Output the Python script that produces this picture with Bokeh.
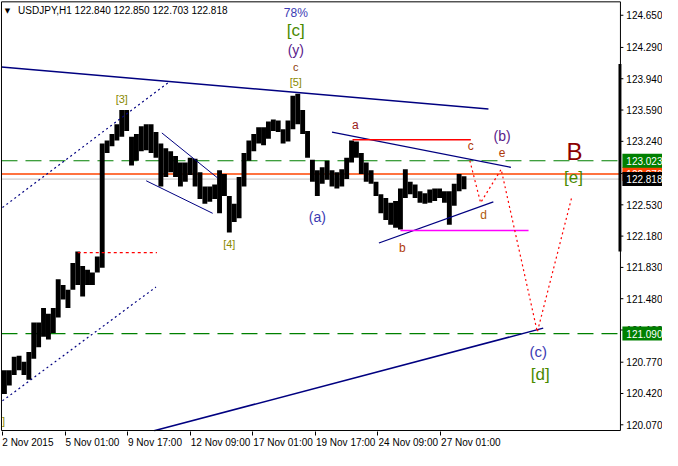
from bokeh.plotting import figure
from bokeh.models import Range1d, FixedTicker, ColumnDataSource
from bokeh.embed import file_html
from bokeh.resources import INLINE
from bokeh.core.properties import value

FONT = "Liberation Sans"

# ---------------- data ----------------
header = "USDJPY,H1  122.840 122.850 122.703 122.818"

# hourly bars aggregated in groups of 5 bars (high / low of each group)
GROUP = 5
bar_high = [120.680, 120.680, 120.830, 120.841, 120.776, 120.883, 121.215, 121.215, 121.376, 121.311,
            121.376, 121.697, 121.632, 121.579, 121.878, 122.007, 121.846, 121.804, 121.772, 121.953,
            123.216, 123.248, 123.323, 123.430, 123.591, 123.591, 123.291, 123.323, 123.409, 123.430,
            123.430, 123.344, 123.216, 123.162, 123.130, 123.077, 123.002, 123.002, 123.056, 123.045,
            122.895, 122.735, 122.735, 122.756, 122.916, 122.874, 122.628, 122.542, 122.842, 123.109,
            123.248, 123.323, 123.398, 123.398, 123.462, 123.484, 123.473, 123.376, 123.473, 123.751,
            123.772, 123.591, 123.355, 123.034, 122.916, 122.949, 123.023, 122.916, 122.895, 122.927,
            123.056, 123.248, 123.237, 123.109, 123.002, 122.916, 122.788, 122.649, 122.606, 122.553,
            122.574, 122.713, 122.927, 122.788, 122.756, 122.681, 122.660, 122.702, 122.713, 122.713,
            122.681, 122.681, 122.767, 122.874, 122.850]
bar_low = [120.413, 120.509, 120.627, 120.680, 120.627, 120.573, 120.809, 120.937, 121.055, 121.023,
           121.097, 121.269, 121.472, 121.376, 121.579, 121.632, 121.504, 121.632, 121.632, 121.772,
           121.825, 123.109, 123.184, 123.248, 123.291, 123.355, 122.970, 123.023, 123.130, 123.141,
           123.109, 123.056, 122.735, 122.842, 122.895, 122.842, 122.735, 122.788, 122.863, 122.735,
           122.595, 122.542, 122.563, 122.595, 122.435, 122.628, 122.221, 122.339, 122.381, 122.735,
           123.023, 123.130, 123.216, 123.195, 123.270, 123.355, 123.344, 123.216, 123.237, 123.376,
           123.430, 123.323, 123.056, 122.788, 122.628, 122.767, 122.809, 122.735, 122.713, 122.735,
           122.820, 123.002, 123.056, 122.874, 122.788, 122.767, 122.628, 122.435, 122.360, 122.307,
           122.274, 122.253, 122.606, 122.649, 122.606, 122.553, 122.542, 122.553, 122.574, 122.606,
           122.553, 122.307, 122.520, 122.681, 122.703]

price_ticks = [124.650, 124.290, 123.940, 123.590, 123.240, 122.880, 122.530, 122.180,
               121.830, 121.480, 121.130, 120.770, 120.420, 120.070]
date_labels = ["2 Nov 2015", "5 Nov 01:00", "9 Nov 17:00", "12 Nov 09:00",
               "17 Nov 01:00", "19 Nov 17:00", "24 Nov 09:00", "27 Nov 01:00"]
date_bars = [0, 64, 128, 192, 256, 320, 384, 448]

# horizontal levels
green_levels = [123.023, 121.090]
orange_level = 122.876
last_price = 122.818
scale_bar_top, scale_bar_bottom = 124.104, 122.007

# trend lines (bar index, price)
navy_x0 = [-1, 155, 163, 147, 337, 385]
navy_y0 = [124.072, 120.003, 123.334, 122.799, 123.344, 122.103]
navy_x1 = [497, 553, 220, 215, 520, 502]
navy_y1 = [123.601, 121.151, 122.831, 122.435, 122.949, 122.563]
navy_w = [1.5, 1.5, 1.0, 1.0, 1.3, 1.3]

channel_x0 = [0, 0]
channel_y0 = [122.499, 120.338]
channel_x1 = [170, 157]
channel_y1 = [123.901, 121.611]

red_dash_level = [121.996, 77, 158]
red_level = [123.259, 358, 479]
magenta_level = [122.242, 407, 538]

proj_bars = [478, 489, 510, 547, 582]
proj_prices = [123.023, 122.553, 122.927, 121.108, 122.606]

wave_text = ["78%", "[c]", "(y)", "c", "[5]", "[3]", "[4]", "(a)", "a", "b", "c", "(b)",
             "e", "d", "B", "[e]", "(c)", "[d]", "]"]
wave_bar = [300, 300, 300, 300, 300, 122, 232, 322, 361, 409, 479, 511,
            511, 492, 585, 584, 548, 550, 1]
wave_price = [124.671, 124.479, 124.265, 124.072, 123.901, 123.719, 122.093, 122.392, 123.419,
              122.050, 123.184, 123.302, 123.120, 122.414, 123.130, 122.841, 120.894, 120.627, 120.113]
wave_color = ["#3B3BB3", "#4A8A00", "#5A1A8A", "#8B3A0A", "#8A8A00", "#8A8A00", "#8A8A00",
              "#3B3BB3", "#9A1A1A", "#B03A0A", "#B03A0A", "#5A1A8A", "#B03A0A", "#B05A0A",
              "#8B0000", "#4A8A00", "#3B3BB3", "#4A8A00", "#8A8A00"]
wave_size = ["12px", "17px", "14px", "11px", "11px", "11px", "11px", "14px", "12px", "12px",
             "12px", "14px", "12px", "12px", "24px", "17px", "15px", "17px", "11px"]

# ---------------- figure ----------------
chart_left, chart_right = -1, 632        # chart border (bar index)
chart_bottom, chart_top = 120.006, 124.80
x_start, x_end = -2, 675                 # frame includes the price-scale strip
y_start, y_end = 119.995, 124.815

p = figure(width=662, height=450, x_range=Range1d(x_start, x_end), y_range=Range1d(y_start, y_end),
           output_backend="svg", toolbar_location=None, y_axis_location=None,
           min_border_left=0, min_border_top=0, min_border_right=0, min_border_bottom=0)
p.grid.visible = False
p.outline_line_color = None
p.background_fill_color = "white"
p.border_fill_color = "white"

# time axis: labels start at their tick (left aligned look)
centers = [int(round(b + len(l) * 2.55)) for b, l in zip(date_bars, date_labels)]
xax = p.xaxis[0]
xax.ticker = FixedTicker(ticks=centers, minor_ticks=date_bars)
xax.major_label_overrides = {c: l for c, l in zip(centers, date_labels)}
xax.major_tick_out = 0
xax.major_tick_in = 0
xax.minor_tick_out = 4
xax.minor_tick_in = 0
xax.minor_tick_line_color = "black"
xax.major_label_standoff = 1
xax.major_label_text_font = FONT
xax.major_label_text_font_size = "10px"
xax.major_label_text_color = "black"
xax.axis_line_color = None

# horizontal levels under price
p.segment(x0=[chart_left] * 2, y0=green_levels, x1=[chart_right] * 2, y1=green_levels,
          line_color="#008000", line_width=1.2, line_dash="16 8")
p.segment(x0=[chart_left], y0=[orange_level], x1=[chart_right], y1=[orange_level],
          line_color="#FF4500", line_width=1.5)
p.segment(x0=[chart_left], y0=[last_price], x1=[chart_right], y1=[last_price],
          line_color="#C0C0C0", line_width=1)

# price bars
xs = [GROUP * i + GROUP // 2 for i in range(len(bar_high))]
p.vbar(x=xs, top=bar_high, bottom=bar_low, width=GROUP, fill_color="black", line_color=None)

# trend lines
p.segment(x0=navy_x0, y0=navy_y0, x1=navy_x1, y1=navy_y1, line_color="#000080", line_width=navy_w)
p.segment(x0=channel_x0, y0=channel_y0, x1=channel_x1, y1=channel_y1, line_color="#000080",
          line_width=1.2, line_dash="2 3")
p.segment(x0=[red_dash_level[1]], y0=[red_dash_level[0]], x1=[red_dash_level[2]], y1=[red_dash_level[0]],
          line_color="#FF0000", line_width=1.2, line_dash="3 3")
p.segment(x0=[red_level[1]], y0=[red_level[0]], x1=[red_level[2]], y1=[red_level[0]],
          line_color="#FF0000", line_width=1.5)
p.segment(x0=[magenta_level[1]], y0=[magenta_level[0]], x1=[magenta_level[2]], y1=[magenta_level[0]],
          line_color="#FF00FF", line_width=1.5)
p.line(proj_bars, proj_prices, line_color="#FF0000", line_width=1.2, line_dash="2 3")

# white strip for the price scale (covers lines that run past the chart)
p.quad(left=[chart_right], right=[x_end + 5], top=[y_end + 1], bottom=[y_start - 1],
       fill_color="white", line_color=None)

# chart border
p.segment(x0=[chart_left, chart_left, chart_left, chart_right],
          y0=[chart_bottom, chart_top, chart_bottom, chart_bottom],
          x1=[chart_left, chart_right, chart_right, chart_right],
          y1=[chart_top, chart_top, chart_bottom, chart_top],
          line_color="black", line_width=1)

# price scale: ticks, labels
n = len(price_ticks)
p.segment(x0=[chart_right] * n, y0=price_ticks, x1=[chart_right + 3] * n, y1=price_ticks,
          line_color="black", line_width=1)
p.text(x=[chart_right + 6] * n, y=price_ticks, text=[f"{v:.3f}" for v in price_ticks],
       text_font=value(FONT), text_font_size="10px", text_color="black",
       text_align="left", text_baseline="middle")

# scale bar on the price axis
p.quad(left=[chart_right - 2], right=[chart_right + 1], top=[scale_bar_top], bottom=[scale_bar_bottom],
       fill_color="black", line_color=None)

# value boxes on the price scale
box_prices = [orange_level, last_price] + green_levels
box_colors = ["#FF4500", "black", "#008000", "#008000"]
for pr, bg in zip(box_prices, box_colors):
    p.rect(x=[(chart_right + 2 + x_end + 2) / 2], y=[pr], width=(x_end + 2) - (chart_right + 2),
           height=14, height_units="screen", fill_color=bg, line_color=None)
    p.text(x=[chart_right + 6], y=[pr], text=[f"{pr:.3f}"], text_font=value(FONT),
           text_font_size="10px", text_color="white", text_align="left", text_baseline="middle")

# wave labels
src = ColumnDataSource(dict(x=wave_bar, y=wave_price, text=wave_text, color=wave_color, size=wave_size))
p.text(x="x", y="y", text="text", text_color="color", text_font_size="size", source=src,
       text_align="center", text_baseline="middle", text_font=value(FONT))

# header
p.text(x=[5], y=[124.70], text=["\u25BC"], text_font_size="7px", text_color="black",
       text_align="center", text_baseline="middle", text_font=value("DejaVu Sans"))
p.text(x=[16], y=[124.703], text=[header], text_font_size="10px", text_color="black",
       text_align="left", text_baseline="middle", text_font=value(FONT))

open("out.html", "w").write(file_html(p, INLINE))
